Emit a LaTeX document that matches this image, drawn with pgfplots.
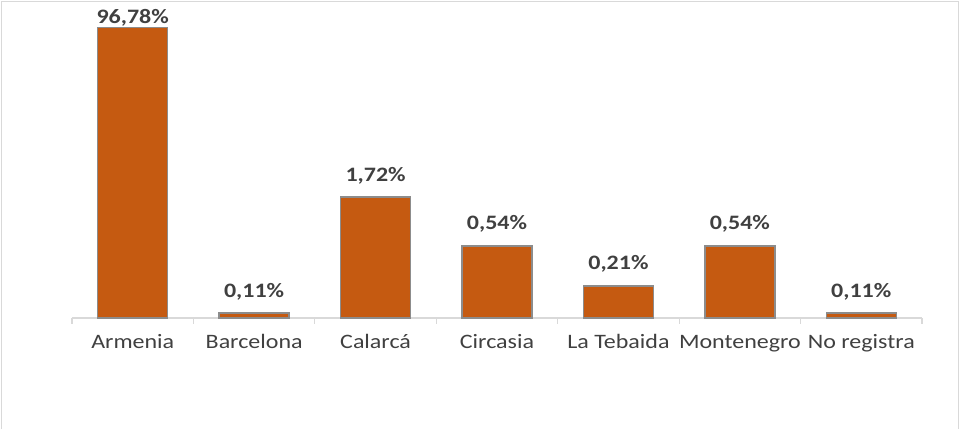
\documentclass[border=0pt]{standalone}
\usepackage{pgfplots}
\pgfplotsset{compat=1.18}
\usepackage{fontspec}
\setmainfont{Carlito}[FakeStretch=1.17]
\definecolor{barfill}{HTML}{C55A11}
\definecolor{barline}{HTML}{8C8C8C}
\definecolor{txt}{HTML}{404040}
\definecolor{axisgray}{HTML}{D9D9D9}

\begin{document}
\begin{tikzpicture}[x=1pt,y=1pt]
\useasboundingbox (0,0) rectangle (960,429);
\draw[axisgray, line width=1.2pt] (1.5,0) -- (1.5,427.5) -- (958.5,427.5) -- (958.5,0);
\begin{axis}[
    at={(72pt,111pt)}, anchor=south west,
    scale only axis, width=850pt, height=308pt,
    ymode=log, ymin=0.0977, ymax=146, log origin=infty,
    xmin=-0.5, xmax=6.5,
    ybar, bar width=70pt, bar shift=0pt,
    axis y line=none, axis x line*=bottom,
    axis line style={axisgray, line width=1.2pt},
    xtick align=outside, major tick length=6pt,
    xtick={0,...,6},
    xticklabels={Armenia,Barcelona,Calarcá,Circasia,La Tebaida,Montenegro,No registra},
    xtick style={draw=none},
    extra x ticks={-0.5,0.5,...,6.5}, extra x tick labels={},
    extra x tick style={xtick style={draw=axisgray, line width=1.2pt}},
    xticklabel style={font=\fontsize{20.5}{22}\selectfont, text=txt, anchor=base, yshift=-25pt},
    nodes near coords,
    nodes near coords style={font=\fontsize{20.5}{22}\selectfont\bfseries, text=txt, anchor=base},
    point meta=explicit symbolic,
    clip=false,
]
  \addplot[fill=barfill, draw=barline, line width=1.5pt,
    nodes near coords style={yshift=4pt}]
    coordinates {(0,96.78) [96,78\%]};
  \addplot[fill=barfill, draw=barline, line width=1.5pt,
    nodes near coords style={yshift=16pt}]
    coordinates {(1,0.11) [0,11\%] (2,1.72) [1,72\%] (3,0.54) [0,54\%]
                 (4,0.21) [0,21\%] (5,0.54) [0,54\%] (6,0.11) [0,11\%]};
\end{axis}
\end{tikzpicture}
\end{document}
